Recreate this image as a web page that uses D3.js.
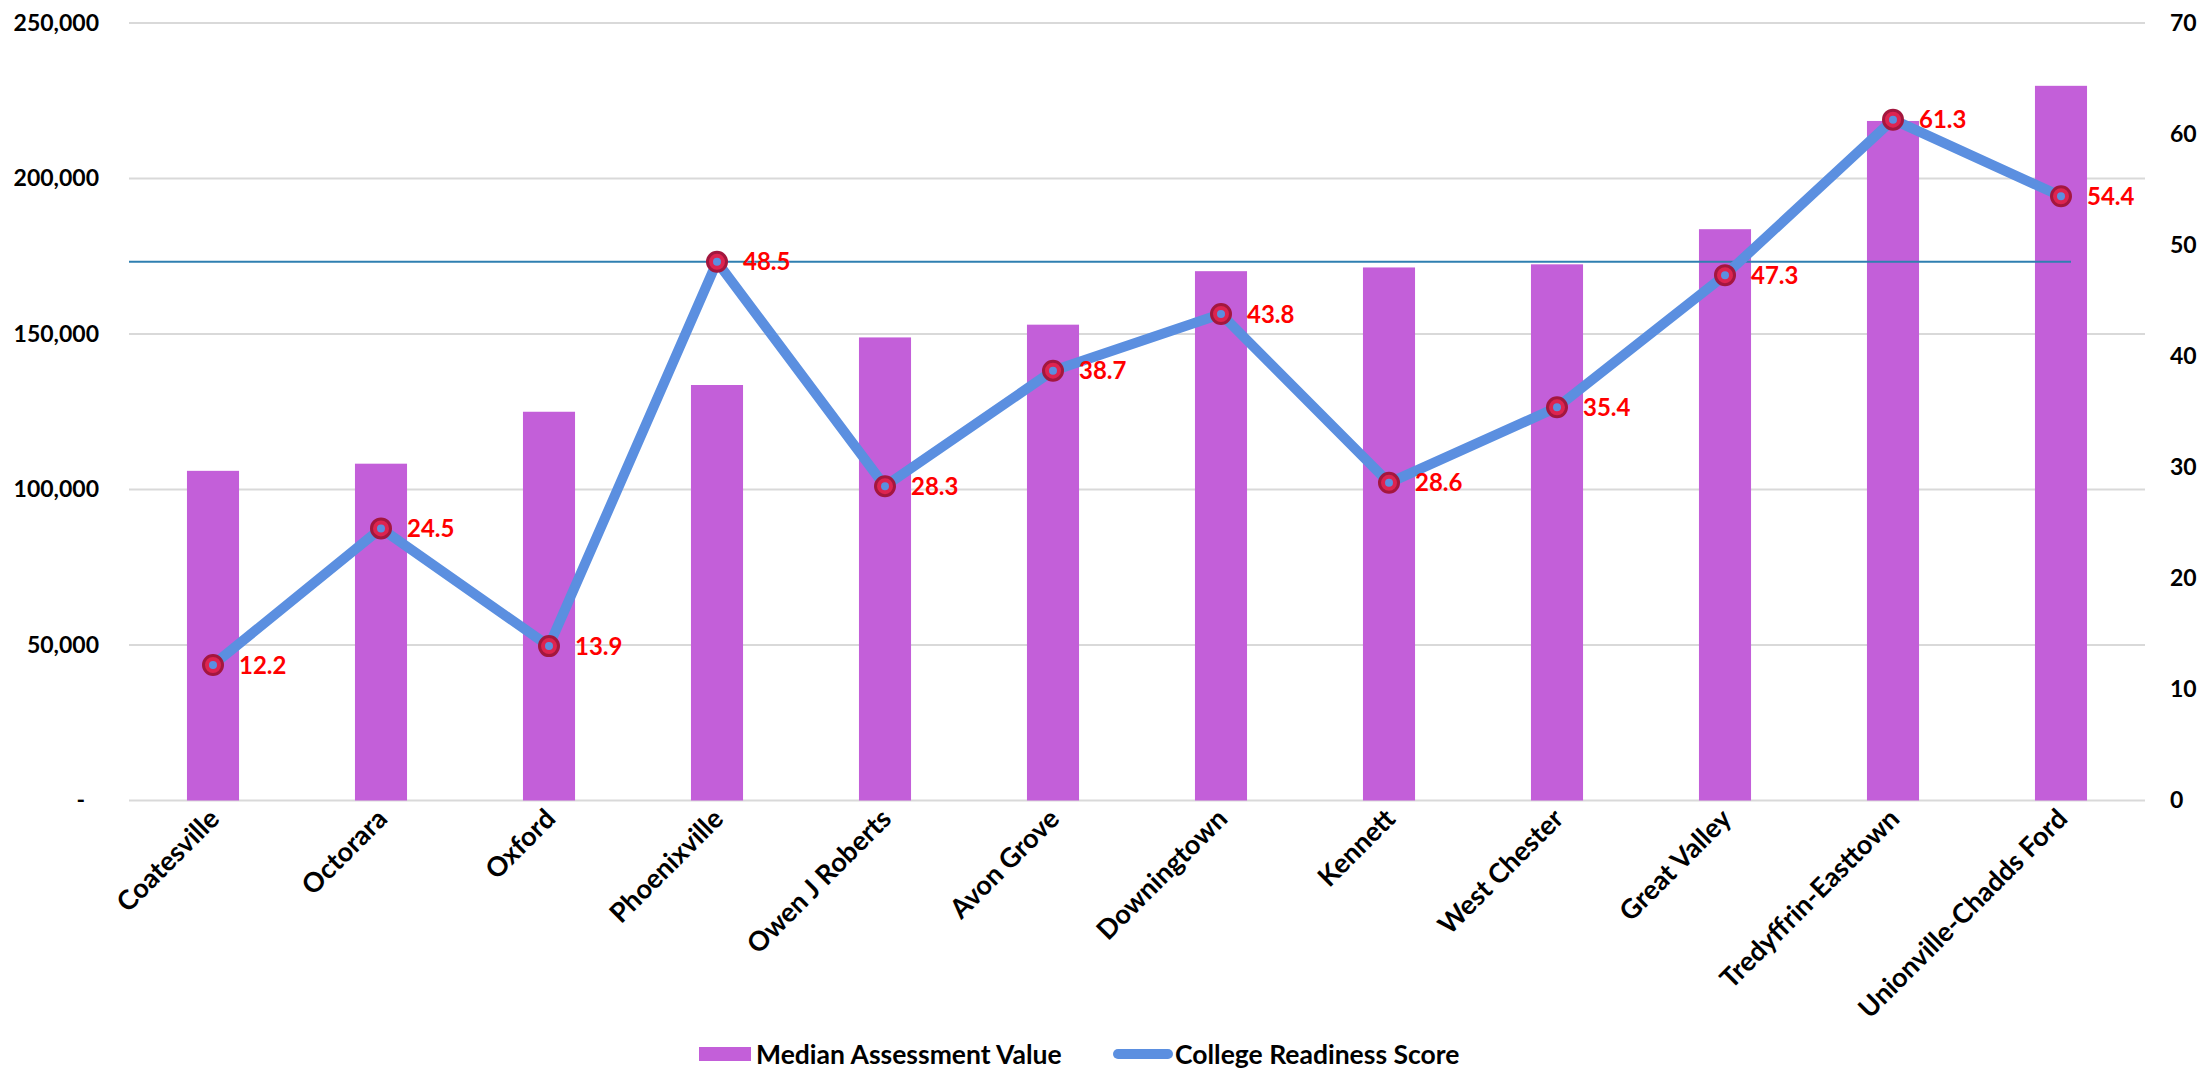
<!DOCTYPE html>
<html>
<head>
<meta charset="utf-8">
<script src="https://cdn.jsdelivr.net/npm/d3@7"></script>
<style>
  html, body { margin: 0; padding: 0; background: #fff; }
  svg { display: block; font-family: 'Century Gothic', Lato, 'Open Sans', sans-serif; font-weight: 700; }
</style>
</head>
<body>
<div id="chart"></div>
<script>
(function() {
  'use strict';

  // Data
  var districts = ['Coatesville', 'Octorara', 'Oxford', 'Phoenixville', 'Owen J Roberts', 'Avon Grove',
    'Downingtown', 'Kennett', 'West Chester', 'Great Valley', 'Tredyffrin-Easttown', 'Unionville-Chadds Ford'];
  var assessmentValues = [106000, 108300, 125000, 133600, 148900, 153000, 170200, 171400, 172400, 183700, 218500, 229800];
  var readinessScores = [12.2, 24.5, 13.9, 48.5, 28.3, 38.7, 43.8, 28.6, 35.4, 47.3, 61.3, 54.4];
  var leftTicks = [0, 50000, 100000, 150000, 200000, 250000];
  var rightTicks = [0, 10, 20, 30, 40, 50, 60, 70];
  var benchmarkScore = 48.5;

  var width = 2204, height = 1074;
  var left = 129, right = 2145, top = 23, bottom = 800.5;

  var barColor = '#c35fd9';
  var lineColor = '#5b8fe0';
  var gridColor = '#d9d9d9';

  var svg = d3.select('#chart').append('svg')
    .attr('width', width)
    .attr('height', height);

  var x = d3.scaleBand()
    .domain(districts)
    .range([left, right])
    .paddingInner(0.69)
    .paddingOuter(0.345);

  var yLeft = d3.scaleLinear().domain([0, 250000]).range([bottom, top]);
  var yRight = d3.scaleLinear().domain([0, 70]).range([bottom, top]);

  function cx(d) { return x(d) + x.bandwidth() / 2; }

  // Gridlines
  svg.append('g')
    .selectAll('line')
    .data(leftTicks)
    .join('line')
    .attr('x1', left).attr('x2', right)
    .attr('y1', function(d) { return yLeft(d); })
    .attr('y2', function(d) { return yLeft(d); })
    .style('stroke', gridColor)
    .style('stroke-width', 2);

  // Left axis
  var axL = svg.append('g')
    .attr('transform', 'translate(99,0)')
    .call(d3.axisLeft(yLeft).tickValues(leftTicks).tickSize(0).tickPadding(0)
      .tickFormat(function(d) { return d === 0 ? '-' : d3.format(',')(d); }));
  axL.select('.domain').remove();
  axL.selectAll('text')
    .style('font-size', '23px')
    .style('fill', '#000')
    .attr('x', function(d) { return d === 0 ? -14 : 0; });

  // Right axis
  var axR = svg.append('g')
    .attr('transform', 'translate(2170,0)')
    .call(d3.axisRight(yRight).tickValues(rightTicks).tickSize(0).tickPadding(0));
  axR.select('.domain').remove();
  axR.selectAll('text')
    .style('font-size', '23px')
    .style('fill', '#000');
  svg.selectAll('g').attr('font-family', null).attr('font-size', null);

  // Bars
  svg.append('g')
    .selectAll('rect')
    .data(districts)
    .join('rect')
    .attr('x', function(d) { return x(d); })
    .attr('width', x.bandwidth())
    .attr('y', function(d, i) { return yLeft(assessmentValues[i]); })
    .attr('height', function(d, i) { return bottom - yLeft(assessmentValues[i]); })
    .style('fill', barColor);

  // Benchmark line at the Phoenixville score
  svg.append('line')
    .attr('x1', left)
    .attr('x2', cx(districts[districts.length - 1]) + 10)
    .attr('y1', yRight(benchmarkScore))
    .attr('y2', yRight(benchmarkScore))
    .style('stroke', '#2f7fb1')
    .style('stroke-width', 2);

  // Readiness line
  var line = d3.line()
    .x(function(d) { return cx(d); })
    .y(function(d, i) { return yRight(readinessScores[i]); });

  svg.append('path')
    .datum(districts)
    .attr('d', line)
    .style('fill', 'none')
    .style('stroke', lineColor)
    .style('stroke-width', 10)
    .style('stroke-linejoin', 'round');

  // Markers
  var pts = svg.append('g')
    .selectAll('g')
    .data(districts)
    .join('g')
    .attr('transform', function(d, i) { return 'translate(' + cx(d) + ',' + yRight(readinessScores[i]) + ')'; });

  pts.append('circle')
    .attr('r', 9.5)
    .style('fill', '#dd2450')
    .style('stroke', '#a3173e')
    .style('stroke-width', 3);
  pts.append('circle')
    .attr('r', 4)
    .style('fill', lineColor);

  pts.append('text')
    .text(function(d, i) { return readinessScores[i].toFixed(1); })
    .attr('x', 26)
    .attr('dy', '0.36em')
    .style('font-size', '24px')
    .style('fill', '#ff0000');

  // Category labels
  svg.append('g')
    .selectAll('text')
    .data(districts)
    .join('text')
    .text(function(d) { return d; })
    .attr('text-anchor', 'end')
    .attr('transform', function(d) { return 'translate(' + (cx(d) + 8) + ',' + (bottom + 20) + ') rotate(-45)'; })
    .style('font-size', '27px')
    .style('fill', '#000');

  // Legend
  var lg = svg.append('g').attr('transform', 'translate(0,1054)');
  lg.append('rect')
    .attr('x', 699).attr('y', -7).attr('width', 52).attr('height', 14)
    .style('fill', barColor);
  lg.append('text')
    .text('Median Assessment Value')
    .attr('x', 756).attr('dy', '0.36em')
    .style('font-size', '26.5px');
  lg.append('line')
    .attr('x1', 1118).attr('x2', 1168)
    .style('stroke', lineColor)
    .style('stroke-width', 10)
    .style('stroke-linecap', 'round');
  lg.append('text')
    .text('College Readiness Score')
    .attr('x', 1175).attr('dy', '0.36em')
    .style('font-size', '26.5px');
})();
</script>
</body>
</html>
